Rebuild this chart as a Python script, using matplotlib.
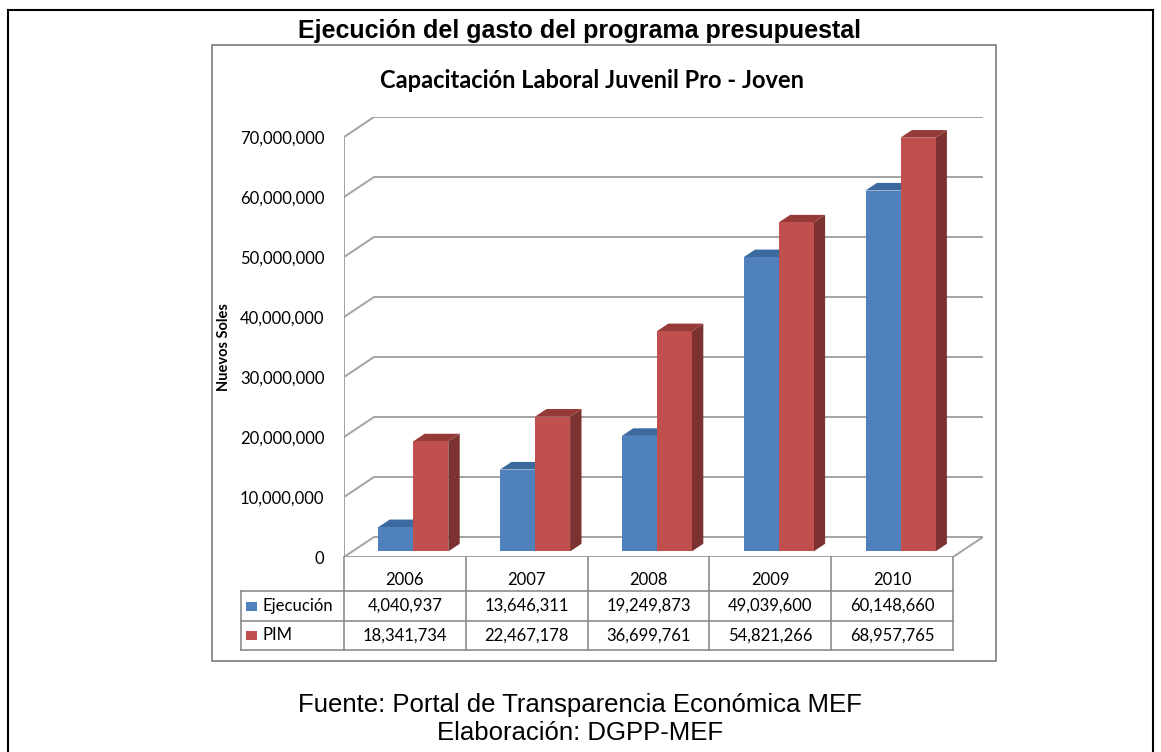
import matplotlib
matplotlib.use("Agg")
import matplotlib.pyplot as plt
from matplotlib.patches import Polygon, Rectangle
from matplotlib.lines import Line2D

# ==============================================================================
# 1. DATOS
# ==============================================================================
years = ['2006', '2007', '2008', '2009', '2010']
ejecucion = [4040937, 13646311, 19249873, 49039600, 60148660]
pim = [18341734, 22467178, 36699761, 54821266, 68957765]
series_names = ['Ejecución', 'PIM']
y_ticks = [0, 10000000, 20000000, 30000000, 40000000, 50000000, 60000000, 70000000]

# colores (cara frontal, cara superior, cara lateral)
BLUE = ('#4F81BD', '#3D6A9E', '#35608F')
RED = ('#C0504D', '#963A38', '#7B3230')
GRID = '#A3A3A3'
TABLE_LINE = '#8C8C8C'

W, H = 1161, 752
CAL = 'Lato'          # reemplazo de Calibri
ARIAL = 'Liberation Sans'

# profundidad del "3D" en unidades de datos
DX = 30 / 121.8       # categorias
DY = 20 / 6.0 * 1e6   # soles
BAR_W = 35 / 121.8
BAR_POS = 0.28        # posicion de la barra dentro de la profundidad
BAR_DEPTH = 0.38


def px_box(x0, y0, x1, y1):
    """Caja en pixeles -> [left, bottom, width, height] de figura"""
    return [x0 / W, 1 - y1 / H, (x1 - x0) / W, (y1 - y0) / H]


def draw_bar(ax, x_left, value, colors):
    """Dibuja una columna 3D: lateral, superior y frontal"""
    front, top, side = colors
    ox, oy = BAR_POS * DX, BAR_POS * DY
    gx, gy = BAR_DEPTH * DX, BAR_DEPTH * DY
    x0, x1 = x_left + ox, x_left + ox + BAR_W
    y0, y1 = oy, oy + value
    ax.add_patch(Polygon([(x1, y0), (x1 + gx, y0 + gy), (x1 + gx, y1 + gy), (x1, y1)],
                         closed=True, fc=side, ec='none', zorder=3))
    ax.add_patch(Polygon([(x0, y1), (x0 + gx, y1 + gy), (x1 + gx, y1 + gy), (x1, y1)],
                         closed=True, fc=top, ec='none', zorder=3))
    ax.add_patch(Rectangle((x0, y0), BAR_W, value, fc=front, ec='none', zorder=4))


# ==============================================================================
# 2. FIGURA
# ==============================================================================
fig = plt.figure(figsize=(W / 100, H / 100), dpi=100)
fig.patch.set_facecolor('white')

# marco exterior negro
for xs, ys in [((8, 8), (10, 760)), ((8, 1153), (10, 10)), ((1153, 1153), (10, 760))]:
    fig.add_artist(Line2D([x / W for x in xs], [1 - y / H for y in ys], color='black', lw=1.5))

# marco del grafico (gris)
fig.add_artist(Rectangle((212 / W, 1 - 661 / H), (996 - 212) / W, (661 - 45) / H,
                         transform=fig.transFigure, fill=False, ec='#868686', lw=1.3))

fig.text(580 / W, 1 - 31 / H, 'Ejecución del gasto del programa presupuestal',
         ha='center', va='center', fontsize=18, fontweight='bold', family=ARIAL)
fig.text(592 / W, 1 - 80 / H, 'Capacitación Laboral Juvenil Pro - Joven',
         ha='center', va='center', fontsize=17, fontweight='bold', family=CAL)
fig.text(224 / W, 1 - 347 / H, 'Nuevos Soles', rotation=90,
         ha='center', va='center', fontsize=10.5, fontweight='bold', family=CAL)
fig.text(580 / W, 1 - 705 / H, 'Fuente: Portal de Transparencia Económica MEF',
         ha='center', va='center', fontsize=18.5, family=ARIAL)
fig.text(580 / W, 1 - 733 / H, 'Elaboración: DGPP-MEF',
         ha='center', va='center', fontsize=18.5, family=ARIAL)

# ==============================================================================
# 3. GRAFICO 3D
# ==============================================================================
ax = fig.add_axes(px_box(344, 117, 983, 557))
n = len(years)
ax.set_xlim(-0.5, n - 0.5 + DX)
ax.set_ylim(0, y_ticks[-1] + DY)
for s in ax.spines.values():
    s.set_visible(False)
ax.set_xticks([])
ax.set_yticks(y_ticks)
ax.set_yticklabels([f'{v:,}' for v in y_ticks], family=CAL, fontsize=12)
ax.tick_params(axis='y', length=0, pad=14)
ax.patch.set_alpha(0)

# paredes y rejilla
ax.plot([-0.5, -0.5], [0, y_ticks[-1]], color=GRID, lw=1.4, zorder=1)
for v in y_ticks:
    ax.plot([-0.5, -0.5 + DX, n - 0.5 + DX], [v, v + DY, v + DY], color=GRID, lw=1.4, zorder=1)
ax.plot([-0.5, n - 0.5, n - 0.5 + DX], [0, 0, DY], color=GRID, lw=1.4, zorder=1)

# columnas
for i in range(n):
    draw_bar(ax, i - BAR_W, ejecucion[i], BLUE)
    draw_bar(ax, i, pim[i], RED)

# ==============================================================================
# 4. TABLA DE DATOS
# ==============================================================================
tax = fig.add_axes(px_box(344, 557, 983, 650))
tax.set_xlim(-0.5, n - 0.5 + DX)
tax.set_ylim(93, 0)
tax.axis('off')

row_edges = [0, 34, 64, 93]
legend_left = -0.5 - 103 / 121.8
for i in range(n + 1):
    tax.plot([i - 0.5, i - 0.5], [0, row_edges[-1]], color=TABLE_LINE, lw=1.2, clip_on=False)
for r in row_edges[1:]:
    tax.plot([legend_left, n - 0.5], [r, r], color=TABLE_LINE, lw=1.2, clip_on=False)
tax.plot([legend_left, legend_left], [row_edges[1], row_edges[-1]], color=TABLE_LINE, lw=1.2, clip_on=False)

for i, yr in enumerate(years):
    tax.text(i, 23, yr, ha='center', va='center', family=CAL, fontsize=12)

rows = [ejecucion, pim]
for r, (vals, name, cols) in enumerate(zip(rows, series_names, [BLUE, RED])):
    yc = (row_edges[r + 1] + row_edges[r + 2]) / 2
    for i, v in enumerate(vals):
        tax.text(i, yc, f'{v:,}', ha='center', va='center', family=CAL, fontsize=12)
    tax.add_patch(Rectangle((legend_left + 5 / 121.8, yc - 4.5), 11 / 121.8, 9,
                            fc=cols[0], ec='none', clip_on=False))
    tax.text(legend_left + 21 / 121.8, yc, name, ha='left', va='center',
             family=CAL, fontsize=12, clip_on=False)

fig.savefig('out.png', dpi=100)
